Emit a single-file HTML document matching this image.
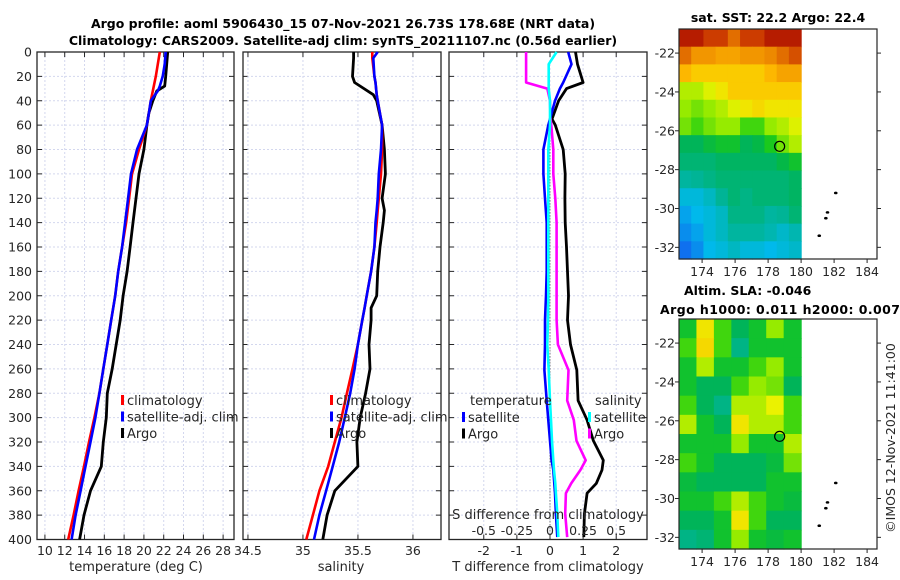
<!DOCTYPE html>
<html><head><meta charset="utf-8"><style>
html,body{margin:0;padding:0;background:#fff}
svg{display:block;font-family:"DejaVu Sans","Liberation Sans",sans-serif}
</style></head><body>
<svg id="fig" width="900" height="580" viewBox="0 0 900 580">
</svg>
<script>
// ---------- data ----------
const depthT = [0,10,20,28,32,40,50,60,80,100,120,140,160,180,200,220,240,260,280,300,320,340,360,380,400];
const tempClim = [21.6,21.4,21.2,21.0,20.9,20.7,20.5,20.3,19.5,18.8,18.5,18.2,17.8,17.4,17.1,16.7,16.3,15.9,15.5,15.0,14.45,13.95,13.4,12.9,12.35];
const tempSat  = [22.2,22.1,21.9,21.6,21.4,20.7,20.5,20.3,19.3,18.7,18.4,18.1,17.8,17.4,17.1,16.7,16.3,15.9,15.5,15.1,14.6,14.1,13.6,13.1,12.7];
const tempArgo = [22.4,22.3,22.2,22.1,21.3,20.9,20.5,20.3,20.0,19.5,19.2,18.9,18.6,18.3,17.9,17.6,17.2,16.8,16.3,16.2,15.9,15.7,14.6,13.95,13.5];
const depthS = [0,5,20,25,35,40,60,80,100,120,130,140,160,180,200,210,220,240,260,280,300,320,340,360,380,400];
const salClim = [35.63,35.63,35.65,35.66,35.67,35.68,35.72,35.72,35.71,35.69,35.68,35.67,35.65,35.62,35.58,35.56,35.54,35.50,35.45,35.40,35.35,35.29,35.23,35.15,35.09,35.03];
const salSat  = [35.68,35.64,35.65,35.66,35.67,35.68,35.72,35.71,35.69,35.68,35.67,35.66,35.65,35.62,35.58,35.56,35.54,35.50,35.47,35.43,35.38,35.33,35.27,35.21,35.15,35.10];
const salArgo = [35.46,35.46,35.45,35.47,35.64,35.67,35.72,35.74,35.75,35.72,35.74,35.73,35.70,35.68,35.67,35.62,35.62,35.60,35.61,35.57,35.52,35.49,35.50,35.29,35.22,35.18];
const depthD = [0,10,25,30,40,55,60,80,100,120,140,160,180,200,220,240,261,286,302,319,335,343,354,362,379,398];
const tDiffSat  = [0.55,0.65,0.4,0.3,0.15,0.0,-0.05,-0.2,-0.2,-0.15,-0.1,-0.1,-0.1,-0.12,-0.15,-0.15,-0.17,-0.1,-0.05,0.0,0.05,0.1,0.13,0.15,0.18,0.22];
const tDiffArgo = [0.77,0.83,1.0,0.5,0.26,0.06,0.16,0.4,0.46,0.45,0.46,0.5,0.53,0.56,0.53,0.62,0.81,0.85,1.12,1.31,1.61,1.57,1.4,1.12,1.04,1.02];
const sDiffSat  = [0.05,-0.01,-0.01,-0.01,0.0,0.0,0.0,-0.013,-0.013,-0.013,-0.013,-0.013,-0.013,-0.013,-0.015,-0.02,-0.01,0.0,0.008,0.015,0.025,0.03,0.04,0.045,0.055,0.063];
const sDiffArgo = [-0.18,-0.18,-0.18,-0.02,0.0,0.005,0.01,0.025,0.025,0.04,0.05,0.05,0.05,0.05,0.05,0.06,0.14,0.13,0.18,0.2,0.27,0.23,0.16,0.12,0.115,0.13];
const depthTicks = [0,20,40,60,80,100,120,140,160,180,200,220,240,260,280,300,320,340,360,380,400];
const tempTicks = [10,12,14,16,18,20,22,24,26,28];
const salTicks = [34.5,35,35.5,36];
const tDiffTicks = [-2,-1,0,1,2];
const sDiffTicks = [-0.5,-0.25,0,0.25,0.5];
const sDiffLabels = ['-0.5','-0.25','0','0.25','0.5'];
const sstGrid = [
[0.95,0.95,0.9,0.9,0.85,0.9,0.9,0.95,0.95,0.95],
[0.85,0.8,0.8,0.78,0.78,0.8,0.8,0.82,0.85,0.88],
[0.75,0.72,0.72,0.72,0.72,0.72,0.72,0.75,0.78,0.78],
[0.62,0.62,0.65,0.68,0.72,0.72,0.72,0.72,0.72,0.72],
[0.6,0.58,0.6,0.62,0.65,0.68,0.7,0.68,0.68,0.68],
[0.58,0.55,0.58,0.6,0.6,0.55,0.55,0.6,0.62,0.65],
[0.45,0.45,0.48,0.5,0.5,0.45,0.47,0.52,0.58,0.62],
[0.42,0.42,0.42,0.44,0.44,0.44,0.44,0.44,0.47,0.5],
[0.37,0.38,0.4,0.42,0.42,0.42,0.42,0.42,0.42,0.44],
[0.3,0.3,0.33,0.38,0.42,0.4,0.42,0.42,0.42,0.44],
[0.25,0.28,0.3,0.33,0.4,0.4,0.4,0.37,0.38,0.42],
[0.22,0.25,0.3,0.33,0.37,0.37,0.37,0.35,0.32,0.35],
[0.18,0.22,0.28,0.3,0.33,0.3,0.3,0.28,0.3,0.32]];
const slaGrid = [
[0.5,0.68,0.55,0.45,0.5,0.6,0.5],
[0.55,0.7,0.55,0.4,0.5,0.5,0.5],
[0.5,0.62,0.5,0.5,0.55,0.6,0.5],
[0.5,0.45,0.45,0.55,0.6,0.58,0.45],
[0.55,0.45,0.4,0.62,0.62,0.66,0.55],
[0.62,0.5,0.45,0.68,0.62,0.62,0.55],
[0.5,0.5,0.5,0.6,0.5,0.5,0.62],
[0.55,0.5,0.45,0.45,0.45,0.48,0.58],
[0.48,0.45,0.45,0.45,0.45,0.5,0.5],
[0.5,0.5,0.55,0.62,0.55,0.5,0.48],
[0.45,0.45,0.5,0.68,0.55,0.45,0.45],
[0.4,0.42,0.5,0.6,0.5,0.48,0.5]];
const lonTicks = [174,176,178,180,182,184];
const latTicks = [-22,-24,-26,-28,-30,-32];
const islandLon = [181.1,181.5,181.6,182.1];
const islandLat = [-31.4,-30.5,-30.2,-29.2];
const argoLon = 178.7, argoLat = -26.8;

// ---------- helpers ----------
const NS="http://www.w3.org/2000/svg", svg=document.getElementById('fig');
function mk(tag,attrs,parent){const e=document.createElementNS(NS,tag);for(const k in attrs)e.setAttribute(k,attrs[k]);(parent||svg).appendChild(e);return e;}
function txt(s,x,y,attrs){const e=mk('text',Object.assign({x:x,y:y,'font-size':12.5,fill:'#262626'},attrs||{}));e.textContent=s;return e;}
const Y0=52,Y1=539.5;
const yD=d=>Y0+(d/400)*(Y1-Y0);

function panel(name,x0,x1,dmin,dmax,ticks,showY){
  const g=mk('g',{});
  
  
  const xs=v=>x0+(v-dmin)/(dmax-dmin)*(x1-x0);
  depthTicks.forEach(d=>{const l=mk('line',{x1:x0,x2:x1,y1:yD(d),y2:yD(d),stroke:'#d3d7ee','stroke-width':1,'stroke-dasharray':'2,2'},g);
    
    mk('line',{x1:x0,x2:x0+5,y1:yD(d),y2:yD(d),stroke:'#262626'},g);
    mk('line',{x1:x1-5,x2:x1,y1:yD(d),y2:yD(d),stroke:'#262626'},g);
    if(showY){const t=txt(String(d),32,yD(d)+4.5,{'text-anchor':'end'});}
  });
  ticks.forEach(v=>{const l=mk('line',{x1:xs(v),x2:xs(v),y1:Y0,y2:Y1,stroke:'#d3d7ee','stroke-width':1,'stroke-dasharray':'2,2'},g);
    
    mk('line',{x1:xs(v),x2:xs(v),y1:Y1-5,y2:Y1,stroke:'#262626'},g);
    mk('line',{x1:xs(v),x2:xs(v),y1:Y0,y2:Y0+5,stroke:'#262626'},g);
  });
  const r=mk('rect',{x:x0,y:Y0,width:x1-x0,height:Y1-Y0,fill:'none',stroke:'#262626','stroke-width':1.3},g);
  
  return {g,xs};
}
function line(p,vals,depths,color,name,w){
  const pts=vals.map((v,i)=>p.xs(v).toFixed(1)+','+yD(depths[i]).toFixed(1)).join(' ');
  const e=mk('polyline',{points:pts,fill:'none',stroke:color,'stroke-width':w||2.6,'stroke-linejoin':'round'},p.g);
  
}
function legend(items,x,y){
  items.forEach((it,i)=>{const yy=y+i*16.5;
    const m=mk('rect',{x:x,y:yy-10,width:3,height:10,fill:it[1]});
    const t=txt(it[0],x+6,yy,{'font-size':13});});
}

// titles
let t=txt('Argo profile: aoml 5906430_15 07-Nov-2021 26.73S 178.68E (NRT data)',343,28,{'text-anchor':'middle','font-weight':'bold','fill':'#000','font-size':12.5});

t=txt('Climatology: CARS2009. Satellite-adj clim: synTS_20211107.nc (0.56d earlier)',343,45,{'text-anchor':'middle','font-weight':'bold','fill':'#000','font-size':12.5});


// panel 1 temperature
const p1=panel('temperature-panel',37,234,9.2,29.1,tempTicks,true);
tempTicks.forEach(v=>{const e=txt(String(v),p1.xs(v),555,{'text-anchor':'middle'});});
t=txt('temperature (deg C)',136,571,{'text-anchor':'middle','font-size':13});
line(p1,tempArgo,depthT,'#000','argo-temperature-line',2.8);
line(p1,tempClim,depthT,'#f00','climatology-temperature-line');
line(p1,tempSat,depthT,'#00f','satellite-temperature-line');
legend([['climatology','#f00'],['satellite-adj. clim','#00f'],['Argo','#000']],121,405);

// panel 2 salinity
const p2=panel('salinity-panel',243,441,34.455,36.255,salTicks,false);
salTicks.forEach(v=>{const e=txt(String(v),p2.xs(v),555,{'text-anchor':'middle'});});
t=txt('salinity',341,571,{'text-anchor':'middle','font-size':13});
line(p2,salArgo,depthS,'#000','argo-salinity-line',2.8);
line(p2,salClim,depthS,'#f00','climatology-salinity-line');
line(p2,salSat,depthS,'#00f','satellite-salinity-line');
legend([['climatology','#f00'],['satellite-adj. clim','#00f'],['Argo','#000']],330,405);

// panel 3 differences
const p3=panel('difference-panel',449,647,-3.05,2.93,tDiffTicks,false);
const sx={g:p3.g,xs:v=>p3.xs(v*4)};
const zl=mk('line',{x1:p3.xs(0),x2:p3.xs(0),y1:yD(70),y2:Y1,stroke:'#444','stroke-width':1,'stroke-dasharray':'1,2'},p3.g);

tDiffTicks.forEach(v=>{const e=txt(String(v),p3.xs(v),555,{'text-anchor':'middle'});});
t=txt('T difference from climatology',548,571,{'text-anchor':'middle','font-size':13});
line(p3,tDiffArgo,depthD,'#000','argo-t-diff-line',2.8);
line(sx,sDiffArgo,depthD,'#f0f','argo-s-diff-line');
line(p3,tDiffSat,depthD,'#00f','satellite-t-diff-line');
line(sx,sDiffSat,depthD,'#0ff','satellite-s-diff-line');
t=txt('S difference from climatology',548,519,{'text-anchor':'middle','font-size':13});
sDiffTicks.forEach((v,i)=>{const e=txt(sDiffLabels[i],sx.xs(v),535,{'text-anchor':'middle'});});
t=txt('temperature',470,405,{'font-size':13});
t=txt('salinity',595,405,{'font-size':13});
legend([['satellite','#00f'],['Argo','#000']],462,422);
legend([['satellite','#0ff'],['Argo','#f0f']],588,422);

// ---------- maps ----------
const cmapStops=[[0,[0,30,170]],[0.15,[20,90,240]],[0.28,[0,185,235]],[0.38,[0,180,150]],[0.46,[0,180,80]],[0.53,[30,205,20]],[0.6,[150,235,0]],[0.66,[235,242,0]],[0.74,[255,190,0]],[0.83,[235,130,0]],[0.91,[200,50,0]],[1,[160,0,0]]];
function cmap(v){for(let i=1;i<cmapStops.length;i++){if(v<=cmapStops[i][0]){const a=cmapStops[i-1],b=cmapStops[i],f=(v-a[0])/(b[0]-a[0]);return 'rgb('+a[1].map((c,k)=>Math.round(c+(b[1][k]-c)*f)).join(',')+')';}}return 'rgb(160,0,0)';}
function map(name,top,grid){
  const x0=679,x1=877,y1=top+230;
  const lx=l=>x0+(l-172.6)/(184.6-172.6)*(x1-x0);
  const ly=l=>top+(-20.76-l)/(32.6-20.76)*(y1-top);
  const g=mk('g',{});
  const rows=grid.length,cols=grid[0].length,iw=lx(180)-x0,ih=y1-top;
  grid.forEach((row,r)=>row.forEach((v,c)=>{const e=mk('rect',{x:x0+c*iw/cols,y:top+r*ih/rows,width:iw/cols+0.6,height:ih/rows+0.6,fill:cmap(v)},g);
    }));
  islandLon.forEach((l,i)=>{const e=mk('ellipse',{cx:lx(l),cy:ly(islandLat[i]),rx:1.8,ry:1.3,fill:'#000'},g);});
  const c=mk('circle',{cx:lx(argoLon),cy:ly(argoLat),r:5,fill:'none',stroke:'#000','stroke-width':1.2},g);
  
  const fr=mk('rect',{x:x0,y:top,width:x1-x0,height:y1-top,fill:'none',stroke:'#262626','stroke-width':1.2},g);
  
  lonTicks.forEach(l=>{mk('line',{x1:lx(l),x2:lx(l),y1:y1,y2:y1+4,stroke:'#262626'},g);
    const e=txt(String(l),lx(l),y1+17,{'text-anchor':'middle'});});
  latTicks.forEach(l=>{mk('line',{x1:x0-4,x2:x0,y1:ly(l),y2:ly(l),stroke:'#262626'},g);mk('line',{x1:x1,x2:x1+4,y1:ly(l),y2:ly(l),stroke:'#262626'},g);
    const e=txt(String(l),x0-4,ly(l)+4.5,{'text-anchor':'end'});});
}
map('sst-map',29,sstGrid);
map('sla-map',319,slaGrid);
t=txt('sat. SST: 22.2 Argo: 22.4',778,22,{'text-anchor':'middle','font-weight':'bold','fill':'#000'});
t=txt('Altim. SLA: -0.046',684,295,{'font-weight':'bold','fill':'#000'});
t=txt('Argo h1000: 0.011 h2000: 0.007',660,314,{'font-weight':'bold','fill':'#000','textLength':240});
t=txt('©IMOS 12-Nov-2021 11:41:00',0,0,{'text-anchor':'middle',transform:'translate(895,438) rotate(-90)'});
</script>
</body></html>
